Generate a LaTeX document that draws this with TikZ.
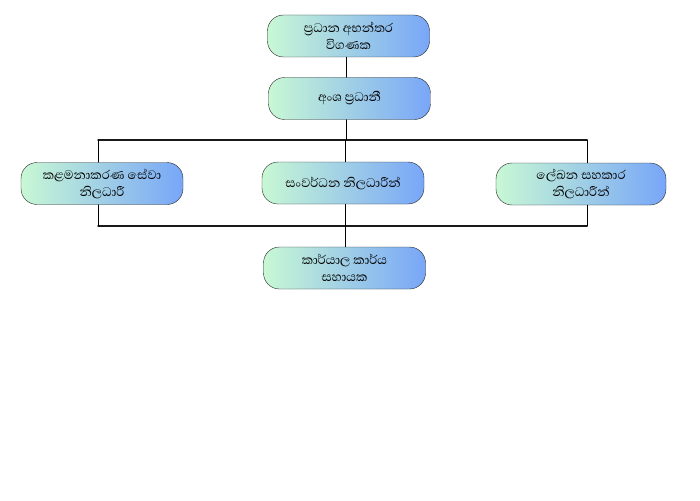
\documentclass[tikz,border=0pt]{standalone}
\usepackage{fontspec}
\newfontfamily\sinhala[Script=Sinhala]{Abhaya Libre}
\definecolor{boxgreen}{HTML}{C8F8D4}
\definecolor{boxblue}{HTML}{78A6F8}
\begin{document}
\begin{tikzpicture}[x=1pt,y=-1pt, font=\sinhala\fontsize{16}{17}\selectfont, line join=round, line cap=round]
 	\tikzset{post/.style={draw=black!85, rounded corners=16pt, left color=boxgreen, right color=boxblue, minimum width=162pt, minimum height=42pt, align=center, inner sep=1pt},
 	link/.style={draw=black, line width=0.7pt}, bus/.style={draw=black!90, line width=1.5pt}}
 	\useasboundingbox (0,0) rectangle (700,500);
 	\node[post] (audit) at (348.5,36) {ප්‍රධාන අභන්තර\\විගණක};
 	\node[post] (head) at (349.5,98.5) {අංශ ප්‍රධානී};
 	\node[post] (mgmt) at (102,183.5) {කළමනාකරණ සේවා\\නිලධාරී};
 	\node[post] (dev) at (343,183) {සංවර්ධන නිලධාරීන්};
 	\node[post, minimum width=170pt] (clerk) at (581,184) {ලේඛන සහකාර\\නිලධාරීන්};
 	\node[post] (office) at (344.5,268) {කාර්යාල කාර්ය\\සහායක};
 	% bus lines
 	\coordinate (upL) at (98,140); \coordinate (upR) at (587,140);
 	\coordinate (loL) at (98,226); \coordinate (loR) at (587,226);
 	\draw[bus] (upL) -- (upR);
 	\draw[bus] (loL) -- (loR);
 	\draw[link] (audit.south -| 346,0) -- (head.north -| 346,0);
 	\draw[link] (head.south -| 346,0) -- (upL -| 346,0);
 	\draw[link] (upL) -- (upL |- mgmt.north);
 	\draw[link] (upR) -- (upR |- clerk.north);
 	\draw[link] (upL -| 345,0) -- (dev.north -| 345,0);
 	\draw[link] (mgmt.south -| loL) -- (loL);
 	\draw[link] (clerk.south -| loR) -- (loR);
 	\draw[link] (dev.south -| 345,0) -- (office.north -| 345,0);
\end{tikzpicture}
\end{document}
